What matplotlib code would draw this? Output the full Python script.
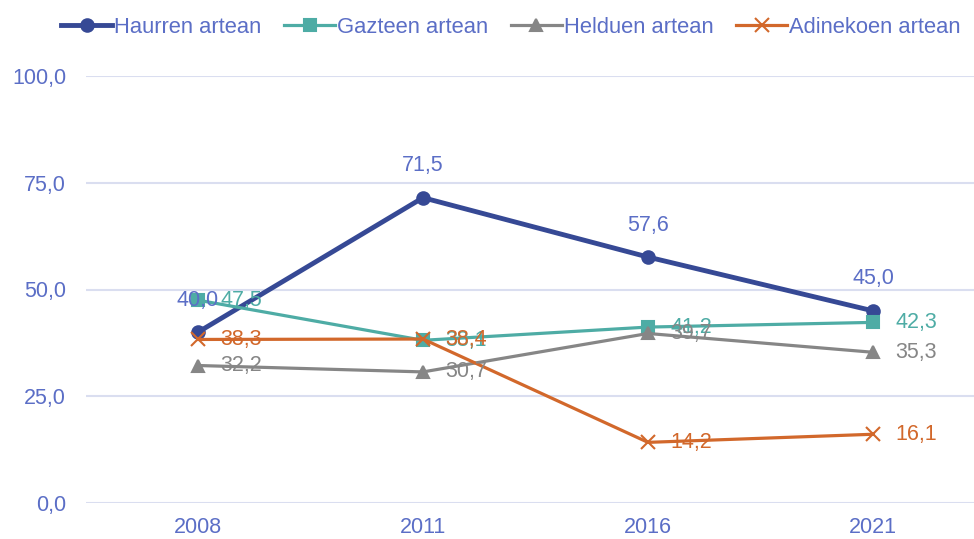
import matplotlib.pyplot as plt

plt.rcParams['font.family'] = ['Liberation Sans', 'DejaVu Sans']

years = ['2008', '2011', '2016', '2021']
haurren = [40.0, 71.5, 57.6, 45.0]
gazteen = [47.5, 38.1, 41.2, 42.3]
helduen = [32.2, 30.7, 39.7, 35.3]
adinekoen = [38.3, 38.4, 14.2, 16.1]

blue_txt = '#5b6ec6'
grid_c = '#dadef0'
fs = 15.5

fig = plt.figure(figsize=(9.74, 5.39), dpi=100)
ax = fig.add_axes([85.5 / 974, 1 - 503 / 539, 900 / 974, 427 / 539])

x = list(range(len(years)))

def fmt(v):
    return f'{v:.1f}'.replace('.', ',')

series = [
    ('Haurren artean', haurren, '#364995', 'o', 3.5, 9, blue_txt),
    ('Gazteen artean', gazteen, '#4eaca5', 's', 2.3, 9, '#4eaca5'),
    ('Helduen artean', helduen, '#868686', '^', 2.3, 9, '#868686'),
    ('Adinekoen artean', adinekoen, '#d2682b', 'x', 2.3, 10, '#d2682b'),
]

for name, vals, col, mk, lw, ms, tc in series:
    ax.plot(x, vals, color=col, marker=mk, lw=lw, ms=ms, mew=1.5, label=name)

for name, vals, col, mk, lw, ms, tc in series[1:]:
    for xi, v in zip(x, vals):
        ax.annotate(fmt(v), (xi, v), xytext=(16, 0), textcoords='offset points',
                    ha='left', va='center', fontsize=fs, color=tc)

name, vals, col, mk, lw, ms, tc = series[0]
for xi, v in zip(x, vals):
    ax.annotate(fmt(v), (xi, v), xytext=(0, 23), textcoords='offset points',
                ha='center', va='center', fontsize=fs, color=tc)

ax.set_xlim(-0.5, 3.5)
ax.set_ylim(0, 100)
ax.set_yticks([0, 25, 50, 75, 100])
ax.set_yticklabels([fmt(t) for t in [0, 25, 50, 75, 100]])
ax.set_xticks(x)
ax.set_xticklabels(years)
ax.tick_params(axis='both', colors=blue_txt, labelsize=fs, length=0)
ax.tick_params(axis='y', pad=14)
ax.tick_params(axis='x', pad=10)
ax.grid(axis='y', color=grid_c, lw=1.5)
ax.set_axisbelow(True)
for s in ax.spines.values():
    s.set_visible(False)

fig.legend(loc='upper left', bbox_to_anchor=(46 / 974, 0.997), ncol=4, frameon=False,
           fontsize=15.8, labelcolor=blue_txt, handlelength=2.3, handletextpad=0.1,
           columnspacing=1.05, borderaxespad=0.3)

fig.savefig('out.png', dpi=100)
